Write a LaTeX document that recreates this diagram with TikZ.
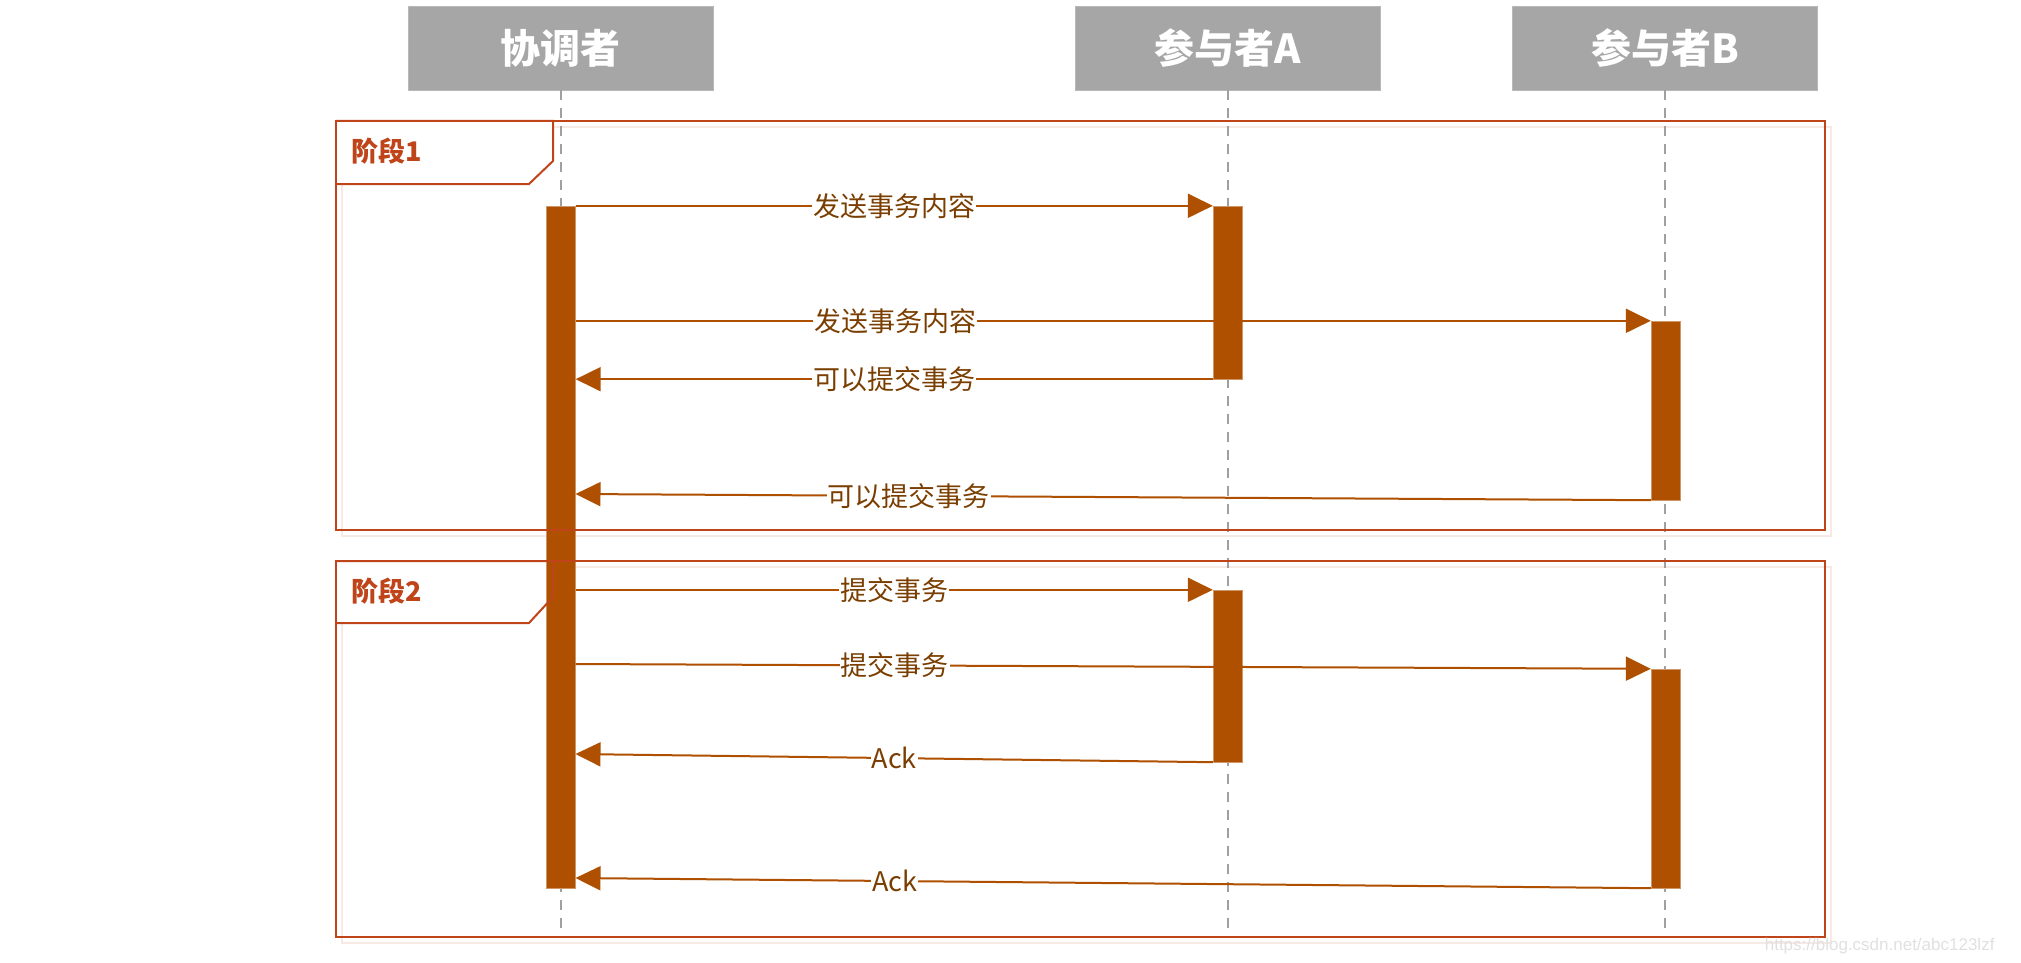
\documentclass[tikz,border=0pt]{standalone}
\usepackage{fontspec}
\setmainfont{Noto Sans CJK SC}
\newfontfamily\markfont{Liberation Sans}
\usetikzlibrary{arrows.meta}

\definecolor{barbrown}{HTML}{AE5000}
\definecolor{msgtext}{HTML}{7A3E00}
\definecolor{framered}{HTML}{C0441A}
\definecolor{headgray}{HTML}{A6A6A6}
\definecolor{lifegray}{HTML}{A0A0A0}

\begin{document}
\begin{tikzpicture}[x=1pt, y=-1pt,
    head/.style={rectangle, fill=headgray, draw=headgray!80, minimum width=305pt, minimum height=84pt, text=white, font=\fontsize{40}{44}\selectfont\bfseries},
    life/.style={draw=lifegray, line width=2pt, dash pattern=on 10pt off 8pt},
    bar/.style={rectangle, fill=barbrown, draw=barbrown!60, minimum width=29pt, inner sep=0pt},
    msg/.style={draw=barbrown, line width=2pt, -{Triangle[length=25pt,width=24pt]}},
    lbl/.style={fill=white, text=msgtext, inner sep=1pt, font=\fontsize{27}{30}\selectfont},
    frame/.style={draw=framered, line width=2pt},
    shade/.style={draw=framered!12, line width=2pt},
    tab/.style={text=framered, font=\fontsize{27}{30}\selectfont\bfseries}]

    \useasboundingbox (0,0) rectangle (2021,963);

    % participants
    \node [head] (coord) at (560.5,48) {协调者};
    \node [head] (pa) at (1227.5,48) {参与者A};
    \node [head] (pb) at (1665,48) {参与者B};

    \coordinate (coordend) at (560.5,937);
    \coordinate (paend) at (1227.5,930);
    \coordinate (pbend) at (1665,937);

    % frame shadows
    \draw [shade] (342,127) rectangle (1831,536);
    \draw [shade] (342,567) rectangle (1831,943);

    % lifelines
    \draw [life] (coord.south) -- (coordend);
    \draw [life] (pa.south) -- (paend);
    \draw [life] (pb.south) -- (pbend);

    % tab backgrounds
    \fill [white] (336,121) -- (553,121) -- (553,161) -- (529,184) -- (336,184) -- cycle;
    \fill [white] (336,561) -- (553,561) -- (553,597) -- (529,623) -- (336,623) -- cycle;

    % activation bars
    \node [bar, minimum height=682pt] (cbar) at (561,547) {};
    \node [bar, minimum height=173pt] (abar1) at (1227.5,292.5) {};
    \node [bar, minimum height=179pt] (bbar1) at (1665.5,410.5) {};
    \node [bar, minimum height=172pt] (abar2) at (1227.5,676) {};
    \node [bar, minimum height=219pt] (bbar2) at (1665.5,778.5) {};

    % phase frames
    \draw [frame] (336,121) rectangle (1825,530);
    \draw [frame] (336,121) -- (553,121) -- (553,161) -- (529,184) -- (336,184);
    \node [tab, anchor=west] (phase1) at (348,151) {阶段1};

    \draw [frame] (336,561) rectangle (1825,937);
    \draw [frame] (336,561) -- (553,561) -- (553,597) -- (529,623) -- (336,623);
    \node [tab, anchor=west] (phase2) at (348,591) {阶段2};

    % messages
    \coordinate (m4end) at (575.5,494);
    \coordinate (m6start) at (575.5,664);
    \coordinate (m7end) at (575.5,754);
    \coordinate (m8end) at (575.5,878);

    \draw [msg] (cbar.east |- abar1.north) -- node [lbl, pos=0.5] {发送事务内容} (abar1.north west);
    \draw [msg] (cbar.east |- bbar1.north) -- node [lbl, pos=0.297] {发送事务内容} (bbar1.north west);
    \draw [msg] (abar1.south west) -- node [lbl, pos=0.5] {可以提交事务} (cbar.east |- abar1.south);
    \draw [msg] (bbar1.south west) -- node [lbl, pos=0.69] {可以提交事务} (m4end);

    \draw [msg] (cbar.east |- abar2.north) -- node [lbl, pos=0.5] {提交事务} (abar2.north west);
    \draw [msg] (m6start) -- node [lbl, pos=0.297] {提交事务} (bbar2.north west);
    \draw [msg] (abar2.south west) -- node [lbl, pos=0.5] {Ack} (m7end);
    \draw [msg] (bbar2.south west) -- node [lbl, pos=0.703] {Ack} (m8end);

    \node [text=black!12, font=\markfont\fontsize{17}{20}\selectfont, anchor=east] (mark) at (1998,946) {https://blog.csdn.net/abc123lzf};
\end{tikzpicture}
\end{document}
